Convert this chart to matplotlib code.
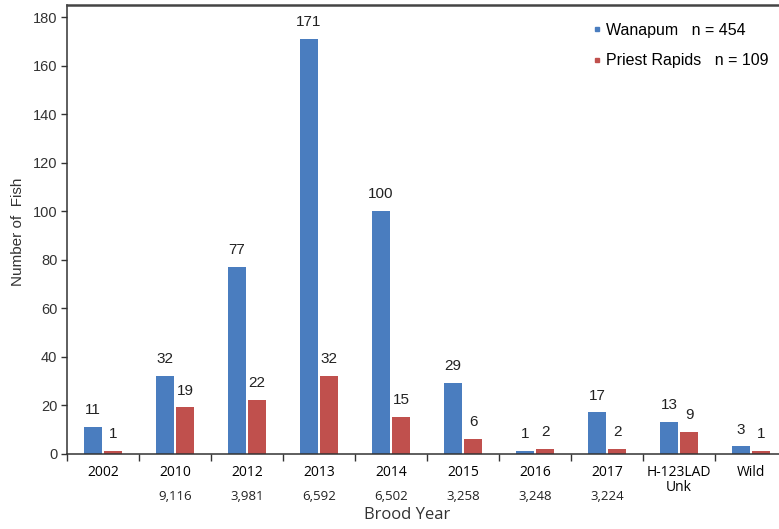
import matplotlib.pyplot as plt
import numpy as np
from matplotlib.lines import Line2D

years = ['2002', '2010', '2012', '2013', '2014', '2015', '2016', '2017',
         'H-123LAD\nUnk', 'Wild']
released = ['', '9,116', '3,981', '6,592', '6,502', '3,258', '3,248', '3,224', '', '']
wanapum = [11, 32, 77, 171, 100, 29, 1, 17, 13, 3]
priest_rapids = [1, 19, 22, 32, 15, 6, 2, 2, 9, 1]

blue = '#4a7dbf'
red = '#c0504d'
font = 'Liberation Sans'

fig = plt.figure(figsize=(7.79, 5.29), dpi=100)
ax = fig.add_axes([67 / 779, 75.5 / 529, 720 / 779, 448.5 / 529])

x = np.arange(len(years))
w = 0.25
off = 0.14
ax.bar(x - off, wanapum, w, color=blue)
ax.bar(x + off, priest_rapids, w, color=red)

for xi, v in zip(x, wanapum):
    ax.annotate(str(v), (xi - off, v), xytext=(0, 7), textcoords='offset points',
                ha='center', va='bottom', fontsize=11, family=font, color='#222222')
for xi, v in zip(x, priest_rapids):
    ax.annotate(str(v), (xi + off, v), xytext=(0, 7), textcoords='offset points',
                ha='center', va='bottom', fontsize=11, family=font, color='#222222')

ax.set_xlim(-0.5, 9.5)
ax.set_ylim(0, 185)
ax.set_yticks(range(0, 181, 20))
ax.set_xticks(x)
ax.set_xticklabels(years, fontsize=10, family='Open Sans', linespacing=1.0)
ax.set_xticks(np.arange(-0.5, 10, 1), minor=True)
ax.tick_params(axis='x', which='major', length=0, pad=8)
ax.tick_params(axis='x', which='minor', length=5, width=1, color='#333333')
ax.tick_params(axis='y', length=4, width=1, color='#333333', pad=3)
for lab in ax.get_yticklabels():
    lab.set_family(font)
    lab.set_fontsize(10.5)
    lab.set_color('#333333')

# release counts under each brood year
for xi, r in zip(x, released):
    ax.text(xi, -0.095, r, transform=ax.get_xaxis_transform(), ha='center',
            va='center', fontsize=9.5, family='Open Sans', color='#222222')

fig.text(407 / 779, 1 - 515 / 529, 'Brood Year', ha='center', va='center',
         fontsize=12, family='Open Sans', color='#333333')
fig.text(18 / 779, 1 - 232 / 529, 'Number of  Fish', rotation=90, ha='center',
         va='center', fontsize=11, family=font, color='#333333')

ax.spines['right'].set_visible(False)
ax.spines['top'].set_linewidth(1.8)
ax.spines['top'].set_color('#444444')
ax.spines['left'].set_color('#333333')
ax.spines['bottom'].set_color('#333333')
ax.spines['left'].set_linewidth(1.1)
ax.spines['bottom'].set_linewidth(1.1)

handles = [Line2D([], [], ls='', marker='s', markersize=3.5, color=blue),
           Line2D([], [], ls='', marker='s', markersize=3.5, color=red)]
fig.legend(handles, ['Wanapum   n = 454', 'Priest Rapids   n = 109'],
           loc='upper left', bbox_to_anchor=(592 / 779, 1 - 23 / 529),
           frameon=False, borderpad=0, borderaxespad=0, handlelength=0.6,
           handletextpad=0.3, labelspacing=0.95, prop={'family': font, 'size': 11.5})

fig.savefig('out.png', dpi=100)
